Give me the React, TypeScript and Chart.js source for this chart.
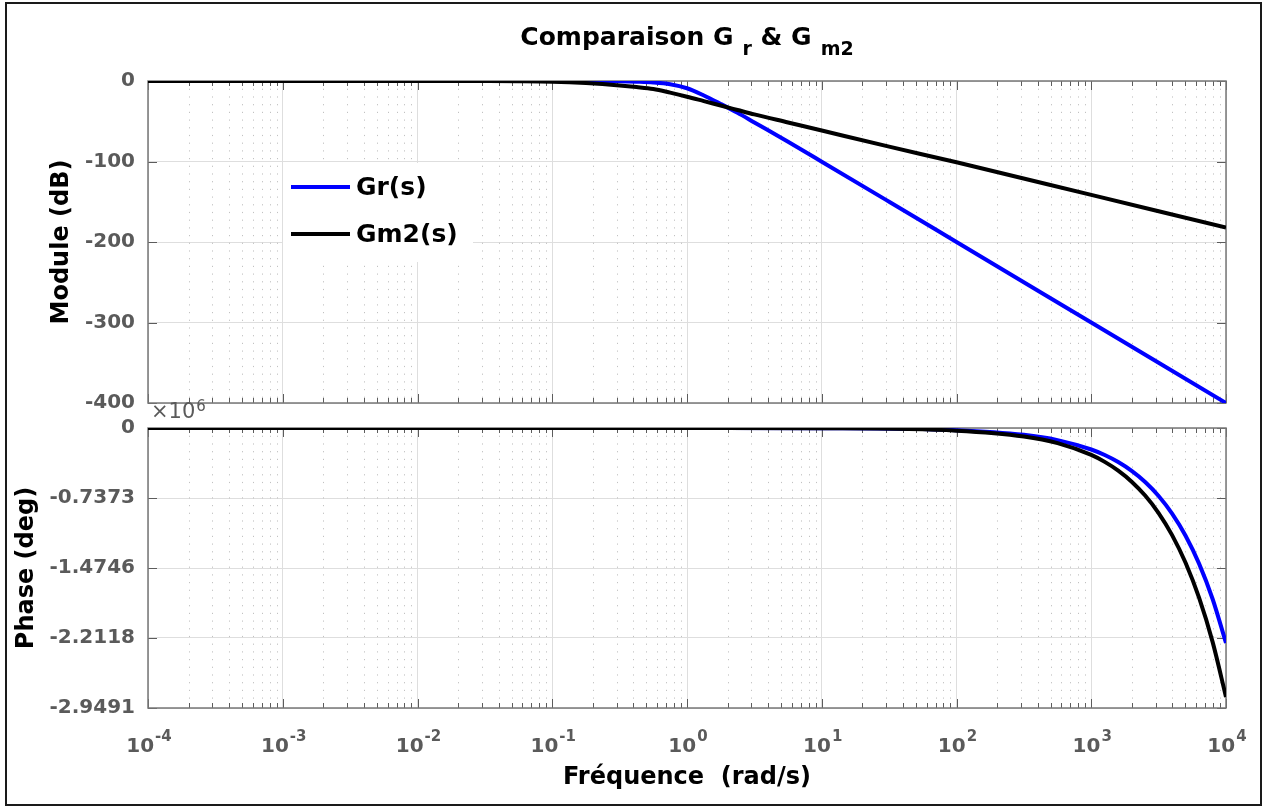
import React, { useEffect, useRef } from 'react';
import { Chart, registerables } from 'chart.js';

Chart.register(...registerables);

// ---------------- data ----------------
const magFreq = [1e-4, 1e-3, 1e-2, 0.0316, 0.0562, 0.1, 0.1778, 0.3162, 0.4217, 0.5623, 0.75, 1, 1.334, 1.778, 2.371, 3.162, 5.623, 10, 31.62, 100, 1000, 10000];
const magGr = [0, 0, 0, 0, 0, -0.02, -0.1, -0.4, -0.9, -1.8, -4, -9, -18, -28.5, -39.5, -51.5, -75.5, -100.2, -150, -200, -300, -400];
const magGm2 = [0, 0, 0, -0.1, -0.3, -0.9, -2.6, -5.5, -7.5, -10, -14.5, -19.5, -25, -30.5, -36, -41.5, -51.5, -61.5, -81.5, -101, -141.5, -182];

const phaseFreq = [1e-4, 1, 10, 100, 316.2, 562.3, 1000, 1259, 1585, 1995, 2512, 3162, 3981, 5012, 6310, 7943, 10000];
const phaseGr = [0, 0, -0.0023, -0.0226, -0.0716, -0.1273, -0.2264, -0.285, -0.3588, -0.4517, -0.5687, -0.7159, -0.9013, -1.1347, -1.4286, -1.7983, -2.264];
const phaseGm2 = [0, 0, -0.0028, -0.0283, -0.0896, -0.1593, -0.2833, -0.3567, -0.449, -0.5652, -0.7116, -0.8958, -1.1278, -1.4199, -1.7876, -2.2502, -2.833];

const magTicks = [0, -100, -200, -300, -400];
const magTickLabels = ['0', '-100', '-200', '-300', '-400'];
const phaseTicks = [0, -0.7373, -1.4746, -2.2118, -2.9491];
const phaseTickLabels = ['0', '-0.7373', '-1.4746', '-2.2118', '-2.9491'];
const decadeExponents = [-4, -3, -2, -1, 0, 1, 2, 3, 4];
const minorMultipliers = [2, 3, 4, 5, 6, 7, 8, 9];

const seriesNames = ['Gr(s)', 'Gm2(s)'];
const seriesColors = ['#0000ff', '#000000'];

const titleMain = 'Comparaison G';
const titleSub1 = 'r';
const titleMid = ' & G';
const titleSub2 = 'm2';
const magAxisTitle = 'Module (dB)';
const phaseAxisTitle = 'Phase (deg)';
const freqAxisTitle = 'Fréquence  (rad/s)';
const phaseExponent = '6';

// ---------------- layout ----------------
const FONT = '"DejaVu Sans", "Liberation Sans", Arial, sans-serif';
const W = 1267;
const PLOT_LEFT = 148;
const PLOT_RIGHT = 1226;
const TOP_H = 432;
const TOP_AREA_TOP = 81;
const TOP_AREA_BOTTOM = 403;
const BOT_Y = 396;
const BOT_H = 811 - BOT_Y;
const BOT_AREA_TOP = 428 - BOT_Y;
const BOT_AREA_BOTTOM = 708 - BOT_Y;

const GRID = '#dedede';
const MINOR = '#c2c2c2';
const FRAME = '#777777';
const TICKCOL = '#5c5c5c';
const LABEL = '#5a5a5a';

const decadeValues = decadeExponents.map((e) => Math.pow(10, e));

function framePlugin(yTicks: number[]) {
  return {
    id: 'frame',
    beforeDatasetsDraw(chart: any) {
      const { ctx, chartArea: a, scales } = chart;
      const xs = scales.x;
      const ys = scales.y;
      ctx.save();
      ctx.strokeStyle = MINOR;
      ctx.lineWidth = 1;
      ctx.setLineDash([1.2, 6.5]);
      for (const e of decadeExponents) {
        if (e >= 4) continue;
        for (const m of minorMultipliers) {
          const x = Math.round(xs.getPixelForValue(m * Math.pow(10, e))) + 0.5;
          ctx.beginPath();
          ctx.moveTo(x, a.top);
          ctx.lineTo(x, a.bottom);
          ctx.stroke();
        }
      }
      ctx.setLineDash([]);
      ctx.strokeStyle = TICKCOL;
      ctx.lineWidth = 1;
      for (const e of decadeExponents) {
        const x = Math.round(xs.getPixelForValue(Math.pow(10, e))) + 0.5;
        ctx.beginPath();
        ctx.moveTo(x, a.bottom); ctx.lineTo(x, a.bottom - 9);
        ctx.moveTo(x, a.top); ctx.lineTo(x, a.top + 9);
        ctx.stroke();
        if (e >= 4) continue;
        for (const m of minorMultipliers) {
          const xm = Math.round(xs.getPixelForValue(m * Math.pow(10, e))) + 0.5;
          ctx.beginPath();
          ctx.moveTo(xm, a.bottom); ctx.lineTo(xm, a.bottom - 5);
          ctx.moveTo(xm, a.top); ctx.lineTo(xm, a.top + 5);
          ctx.stroke();
        }
      }
      for (const v of yTicks) {
        const y = Math.round(ys.getPixelForValue(v)) + 0.5;
        ctx.beginPath();
        ctx.moveTo(a.left, y); ctx.lineTo(a.left + 9, y);
        ctx.moveTo(a.right, y); ctx.lineTo(a.right - 9, y);
        ctx.stroke();
      }
      ctx.strokeStyle = FRAME;
      ctx.lineWidth = 1.5;
      ctx.strokeRect(a.left, a.top, a.right - a.left, a.bottom - a.top);
      ctx.restore();
    },
  };
}

function drawParts(ctx: CanvasRenderingContext2D, parts: { t: string; f: string; dy: number; gap?: number }[], cx: number, baseline: number, color: string) {
  let total = 0;
  const widths = parts.map((p) => {
    ctx.font = p.f;
    const w = ctx.measureText(p.t).width + (p.gap || 0);
    total += w;
    return w;
  });
  let x = cx - total / 2;
  ctx.fillStyle = color;
  ctx.textAlign = 'left';
  ctx.textBaseline = 'alphabetic';
  parts.forEach((p, i) => {
    ctx.font = p.f;
    ctx.fillText(p.t, x + (p.gap || 0), baseline + p.dy);
    x += widths[i];
  });
}

const topDecor = {
  id: 'topDecor',
  afterDatasetsDraw(chart: any) {
    const { ctx, chartArea: a } = chart;
    ctx.save();
    const lx = a.left + 135;
    const ly = a.top + 82;
    ctx.fillStyle = '#ffffff';
    ctx.fillRect(lx, ly, 190, 99);
    ctx.lineWidth = 4;
    ctx.font = `bold 25px ${FONT}`;
    ctx.textBaseline = 'middle';
    ctx.textAlign = 'left';
    seriesNames.forEach((name, i) => {
      const y = ly + 24 + i * 47;
      ctx.strokeStyle = seriesColors[i];
      ctx.beginPath();
      ctx.moveTo(lx + 8, y);
      ctx.lineTo(lx + 67, y);
      ctx.stroke();
      ctx.fillStyle = '#000000';
      ctx.fillText(name, lx + 73, y + 1);
    });
    ctx.restore();
  },
  afterDraw(chart: any) {
    const { ctx, chartArea: a } = chart;
    ctx.save();
    const big = `bold 25px ${FONT}`;
    const small = `bold 19px ${FONT}`;
    drawParts(ctx, [
      { t: titleMain, f: big, dy: 0 },
      { t: titleSub1, f: small, dy: 10, gap: 9 },
      { t: titleMid, f: big, dy: 0 },
      { t: titleSub2, f: small, dy: 10, gap: 9 },
    ], (a.left + a.right) / 2, 45, '#000000');
    ctx.restore();
  },
};

const bottomDecor = {
  id: 'bottomDecor',
  afterDraw(chart: any) {
    const { ctx, chartArea: a, scales } = chart;
    const xs = scales.x;
    ctx.save();
    for (const e of decadeExponents) {
      const x = xs.getPixelForValue(Math.pow(10, e));
      drawParts(ctx, [
        { t: '10', f: `bold 20px ${FONT}`, dy: 0 },
        { t: String(e), f: `bold 15px ${FONT}`, dy: -11, gap: 1 },
      ], x + 1, a.bottom + 44, LABEL);
    }
    ctx.fillStyle = LABEL;
    ctx.textAlign = 'left';
    ctx.textBaseline = 'alphabetic';
    ctx.font = `21px ${FONT}`;
    ctx.fillText('\u00d710', a.left + 3, a.top - 10);
    const w = ctx.measureText('\u00d710').width;
    ctx.font = `15px ${FONT}`;
    ctx.fillText(phaseExponent, a.left + 4 + w, a.top - 17);
    ctx.restore();
  },
};

function baseScales(yMin: number, yMax: number, yTicks: number[], yLabels: string[], yTitle: string, yTitlePad: number, xHeight: number, xTitle: string | null) {
  return {
    x: {
      type: 'logarithmic',
      min: 1e-4,
      max: 1e4,
      afterBuildTicks: (s: any) => { s.ticks = decadeValues.map((v) => ({ value: v, major: true })); },
      ticks: { display: false },
      grid: { color: GRID, lineWidth: 1, drawTicks: false },
      border: { display: false },
      title: xTitle
        ? { display: true, text: xTitle, color: '#000000', font: { family: FONT, size: 24, weight: 'bold' }, padding: { top: 0, bottom: 19 } }
        : { display: false },
      afterFit: (s: any) => { s.height = xHeight; },
    },
    y: {
      type: 'linear',
      min: yMin,
      max: yMax,
      afterBuildTicks: (s: any) => { s.ticks = yTicks.map((v) => ({ value: v })); },
      ticks: {
        color: LABEL,
        font: { family: FONT, size: 20, weight: 'bold' },
        padding: 13,
        autoSkip: false,
        callback: (v: number) => yLabels[yTicks.indexOf(v)] ?? String(v),
      },
      grid: { color: GRID, lineWidth: 1, drawTicks: false },
      border: { display: false },
      title: { display: true, text: yTitle, color: '#000000', font: { family: FONT, size: 24, weight: 'bold' }, padding: { top: yTitlePad, bottom: 0 } },
      afterFit: (s: any) => { s.width = PLOT_LEFT; },
    },
  };
}

function lineDataset(label: string, xs: number[], ys: number[], color: string, order: number) {
  return {
    label,
    data: xs.map((x, i) => ({ x, y: ys[i] })),
    borderColor: color,
    backgroundColor: color,
    borderWidth: 4,
    pointRadius: 0,
    fill: false,
    cubicInterpolationMode: 'monotone',
    order,
  };
}

export default function App() {
  const topRef = useRef<HTMLCanvasElement>(null);
  const botRef = useRef<HTMLCanvasElement>(null);

  useEffect(() => {
    const common = {
      responsive: false,
      animation: false,
      events: [],
      plugins: { legend: { display: false }, tooltip: { enabled: false }, title: { display: false } },
    };
    const top = new Chart(topRef.current as HTMLCanvasElement, {
      type: 'line',
      data: {
        datasets: [
          lineDataset(seriesNames[0], magFreq, magGr, seriesColors[0], 1),
          lineDataset(seriesNames[1], magFreq, magGm2, seriesColors[1], 0),
        ],
      },
      options: {
        ...common,
        layout: { padding: { left: 0, right: W - PLOT_RIGHT, top: TOP_AREA_TOP, bottom: TOP_H - TOP_AREA_BOTTOM } },
        scales: baseScales(-400, 0, magTicks, magTickLabels, magAxisTitle, 47, 0, null),
      } as any,
      plugins: [framePlugin(magTicks), topDecor],
    } as any);
    const bot = new Chart(botRef.current as HTMLCanvasElement, {
      type: 'line',
      data: {
        datasets: [
          lineDataset(seriesNames[0], phaseFreq, phaseGr, seriesColors[0], 1),
          lineDataset(seriesNames[1], phaseFreq, phaseGm2, seriesColors[1], 0),
        ],
      },
      options: {
        ...common,
        layout: { padding: { left: 0, right: W - PLOT_RIGHT, top: BOT_AREA_TOP, bottom: 0 } },
        scales: baseScales(phaseTicks[phaseTicks.length - 1], 0, phaseTicks, phaseTickLabels, phaseAxisTitle, 12, BOT_H - BOT_AREA_BOTTOM, freqAxisTitle),
      } as any,
      plugins: [framePlugin(phaseTicks), bottomDecor],
    } as any);
    return () => {
      top.destroy();
      bot.destroy();
    };
  }, []);

  return (
    <div style={{ position: 'absolute', left: 0, top: 0, width: W, height: 811, background: '#ffffff', overflow: 'hidden' }}>
      <canvas ref={topRef} width={W} height={TOP_H} style={{ position: 'absolute', left: 0, top: 0, width: W, height: TOP_H }} />
      <canvas ref={botRef} width={W} height={BOT_H} style={{ position: 'absolute', left: 0, top: BOT_Y, width: W, height: BOT_H }} />
      <div style={{ position: 'absolute', left: 5, top: 2, width: 1257, height: 804, border: '2px solid #1a1a1a', boxSizing: 'border-box', pointerEvents: 'none' }} />
    </div>
  );
}
